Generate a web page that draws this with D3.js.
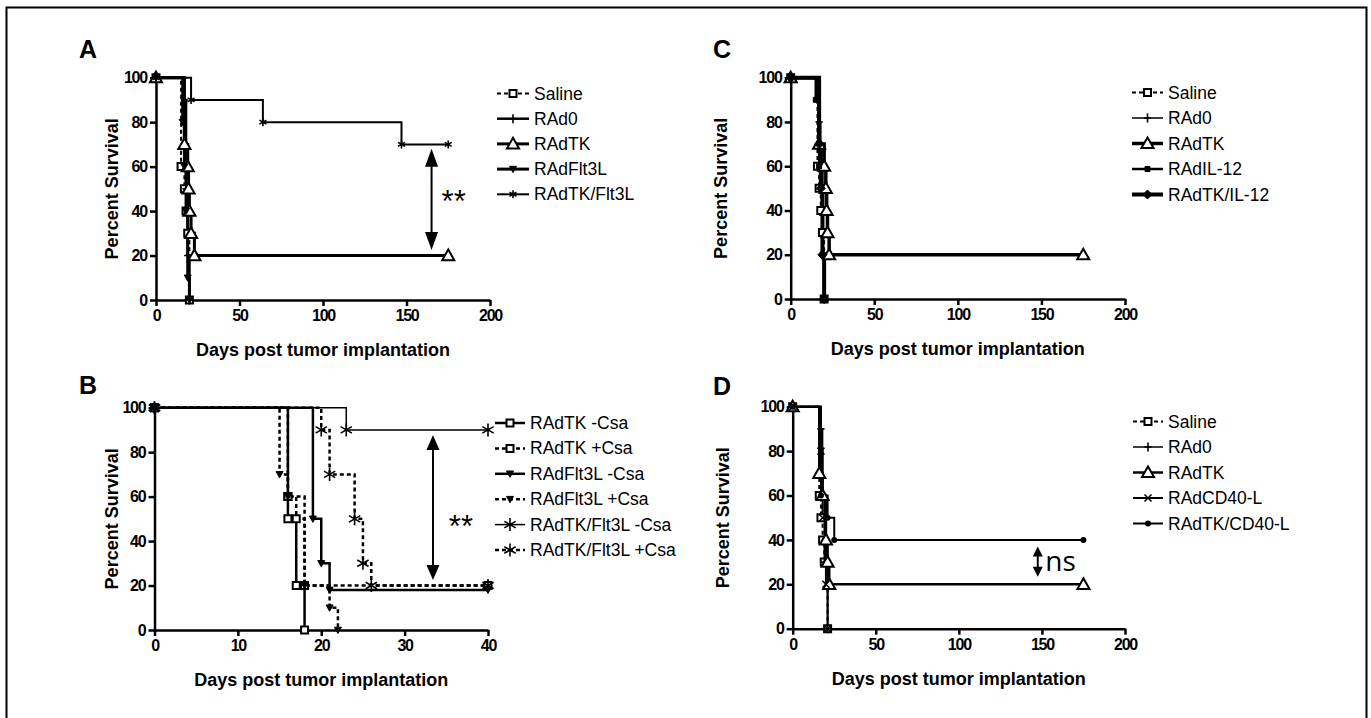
<!DOCTYPE html>
<html>
<head>
<meta charset="utf-8">
<script src="https://cdn.jsdelivr.net/npm/d3@7"></script>
<style>
body { margin: 0; background: #fff; }
svg { display: block; }
.axis text { font-family: "Liberation Sans", Arial, sans-serif; font-weight: bold; font-size: 16px; letter-spacing: -1.2px; fill: #000; }
.axis path, .axis line { stroke: #000; stroke-width: 2.5; }
.title { font-family: "Liberation Sans", Arial, sans-serif; font-weight: bold; font-size: 18px; }
.legend text { font-family: "Liberation Sans", Arial, sans-serif; font-size: 17.5px; }
</style>
</head>
<body>
<svg id="fig" width="1371" height="718"></svg>
<script>
// tick values
var survTicks = [0, 20, 40, 60, 80, 100];
var dayTicksLong = [0, 50, 100, 150, 200];
var dayTicksShort = [0, 10, 20, 30, 40];

// A: survival steps [day, percent]
var namesA = ["Saline", "RAd0", "RAdTK", "RAdFlt3L", "RAdTK/Flt3L"];
var salineA = [[0,100],[15,60],[17,50],[18,40],[19,30],[20,0]];
var rad0A = [[0,100],[17,90],[18,50],[19,20],[20,0]];
var radtkA = [[0,100],[17,70],[19,60],[19.5,50],[20,40],[21,30],[23,20],[175,20]];
var flt3lA = [[0,100],[16,80],[17,60],[18,40],[19,10],[20,0]];
var tkflt3lA = [[0,100],[21,90],[64,80],[147,70],[175,70]];

// B
var namesB = ["RAdTK -Csa", "RAdTK +Csa", "RAdFlt3L -Csa", "RAdFlt3L +Csa", "RAdTK/Flt3L -Csa", "RAdTK/Flt3L +Csa"];
var tkMinusB = [[0,100],[16,60],[16,50],[17,20],[18,0]];
var tkPlusB = [[0,100],[16,60],[17,50],[18,20],[40,20]];
var flt3lMinusB = [[0,100],[19,50],[20,30],[21,18],[40,18]];
var flt3lPlusB = [[0,100],[15,70],[16,60],[18,20],[21,10],[22,0]];
var tkflt3lMinusB = [[0,100],[23,90],[40,90]];
var tkflt3lPlusB = [[0,100],[20,90],[21,70],[24,50],[25,30],[26,20],[40,20]];

// C
var namesC = ["Saline", "RAd0", "RAdTK", "RAdIL-12", "RAdTK/IL-12"];
var salineC = [[0,100],[16,60],[17,50],[18,40],[19,30],[20,0]];
var rad0C = [[0,100],[17,80],[18,50],[19,20],[20,0]];
var radtkC = [[0,100],[17,70],[20,60],[21,50],[21.5,40],[22,30],[23,20],[175,20]];
var il12C = [[0,100],[15,90],[17,60],[19,20],[20,0]];
var tkil12C = [[0,100],[17,70],[18,50],[19,20],[20,0]];

// D
var namesD = ["Saline", "RAd0", "RAdTK", "RAdCD40-L", "RAdTK/CD40-L"];
var salineD = [[0,100],[16,60],[17,50],[18,40],[19,30],[21,0]];
var rad0D = [[0,100],[17,90],[18,60],[19,30],[21,0]];
var radtkD = [[0,100],[16,70],[18,60],[20,40],[21,30],[22,20],[175,20]];
var cd40D = [[0,100],[17,80],[18,50],[20,20],[21,0]];
var tkcd40D = [[0,100],[17,60],[21,50],[25,40],[175,40]];

// line / marker styles per series
var styleA = [
  {dash: "4,3", w: 2, m: "square", ms: 7},
  {dash: null, w: 2.5, m: "plus", ms: 9},
  {dash: null, w: 3, m: "triangle", ms: 11},
  {dash: null, w: 3, m: "tridown", ms: 7},
  {dash: null, w: 2, m: "star", ms: 8}
];
var styleB = [
  {dash: null, w: 2.5, m: "square", ms: 7},
  {dash: "4,3", w: 2.5, m: "square", ms: 7},
  {dash: null, w: 2.5, m: "tridown", ms: 7},
  {dash: "4,3", w: 2.5, m: "tridown", ms: 7},
  {dash: null, w: 1.5, m: "star", ms: 13},
  {dash: "4,3", w: 2.5, m: "star", ms: 13}
];
var styleC = [
  {dash: "4,3", w: 2, m: "square", ms: 7},
  {dash: null, w: 1.5, m: "plus", ms: 9},
  {dash: null, w: 3.5, m: "triangle", ms: 11},
  {dash: null, w: 2.5, m: "fsquare", ms: 5},
  {dash: null, w: 4, m: "diamond", ms: 9}
];
var styleD = [
  {dash: "4,3", w: 2, m: "square", ms: 7},
  {dash: null, w: 1.5, m: "plus", ms: 9},
  {dash: null, w: 2.5, m: "triangle", ms: 11},
  {dash: null, w: 2, m: "x", ms: 7},
  {dash: null, w: 2, m: "dot", ms: 6}
];

var panels = [
  {label: "A", names: namesA, data: [salineA, rad0A, radtkA, flt3lA, tkflt3lA], styles: styleA,
   xMax: 200, xTicks: dayTicksLong, xr: [156, 490], yr: [300, 77.7],
   lab: [79, 58], yTitleX: 118, leg: [497, 93.5, 25.2, 32],
   arrow: {day: 165, from: 68, to: 22.5, head: [13, 18]}, note: {text: "**", day: 171, val: 46}},
  {label: "B", names: namesB, data: [tkMinusB, tkPlusB, flt3lMinusB, flt3lPlusB, tkflt3lMinusB, tkflt3lPlusB], styles: styleB,
   xMax: 40, xTicks: dayTicksShort, xr: [154.5, 488], yr: [630, 407.7],
   lab: [79, 394], yTitleX: 118, leg: [495, 423, 25.4, 30],
   arrow: {day: 33.4, from: 87.7, to: 22.5, head: [13, 15]}, note: {text: "**", day: 35.3, val: 48}},
  {label: "C", names: namesC, data: [salineC, rad0C, radtkC, il12C, tkil12C], styles: styleC,
   xMax: 200, xTicks: dayTicksLong, xr: [790.7, 1125], yr: [299, 77.7],
   lab: [713, 58.3], yTitleX: 727, leg: [1132, 92.5, 25.5, 31],
   arrow: null, note: null},
  {label: "D", names: namesD, data: [salineD, rad0D, radtkD, cd40D, tkcd40D], styles: styleD,
   xMax: 200, xTicks: dayTicksLong, xr: [792.7, 1125], yr: [628.7, 406.7],
   lab: [713, 395], yTitleX: 729, leg: [1133, 421.5, 25.5, 30],
   arrow: {day: 147.5, from: 37, to: 23.4, head: [10, 10]}, note: {text: "ns", day: 152, val: 26}}
];

var svg = d3.select("#fig");

// frame around the whole figure
svg.append("rect")
  .attr("x", 6.5).attr("y", 7.5)
  .attr("width", 1360).attr("height", 730)
  .attr("fill", "none").attr("stroke", "#000").attr("stroke-width", 2);

function markerPath(type, s) {
  var h = s / 2;
  if (type == "square" || type == "fsquare") return "M" + (-h) + "," + (-h) + "H" + h + "V" + h + "H" + (-h) + "Z";
  if (type == "triangle") return "M0," + (-s * 0.55) + "L" + (s * 0.55) + "," + (s * 0.42) + "L" + (-s * 0.55) + "," + (s * 0.42) + "Z";
  if (type == "tridown") return "M" + (-h) + "," + (-s * 0.4) + "L" + h + "," + (-s * 0.4) + "L0," + (s * 0.5) + "Z";
  if (type == "diamond") return "M0," + (-h) + "L" + h + ",0L0," + h + "L" + (-h) + ",0Z";
  if (type == "plus") return "M0," + (-h) + "V" + h + "M" + (-h * 0.8) + ",0H" + (h * 0.8);
  if (type == "x") return "M" + (-h) + "," + (-h) + "L" + h + "," + h + "M" + (-h) + "," + h + "L" + h + "," + (-h);
  if (type == "star") {
    var c = Math.cos(Math.PI / 6) * h, d = Math.sin(Math.PI / 6) * h;
    return "M0," + (-h) + "V" + h + "M" + (-c) + "," + (-d) + "L" + c + "," + d + "M" + (-c) + "," + d + "L" + c + "," + (-d);
  }
  return "";
}

function drawMarker(g, st, x, y) {
  if (st.m == "dot") {
    g.append("circle").attr("cx", x).attr("cy", y).attr("r", st.ms / 2).attr("fill", "#000");
    return;
  }
  var open = (st.m == "square" || st.m == "triangle");
  var filled = (st.m == "fsquare" || st.m == "tridown" || st.m == "diamond");
  g.append("path")
    .attr("d", markerPath(st.m, st.ms))
    .attr("transform", "translate(" + x + "," + y + ")")
    .attr("fill", open ? "#fff" : (filled ? "#000" : "none"))
    .attr("stroke", "#000")
    .attr("stroke-width", open ? 2 : (filled ? 1 : 1.6));
}

panels.forEach(function(p) {
  var x = d3.scaleLinear().domain([0, p.xMax]).range(p.xr);
  var y = d3.scaleLinear().domain([0, 100]).range(p.yr);
  var g = svg.append("g").attr("class", "panel");

  g.append("text").attr("class", "title")
    .attr("x", p.lab[0]).attr("y", p.lab[1])
    .style("font-size", "25px")
    .text(p.label);

  g.append("g").attr("class", "axis")
    .attr("transform", "translate(0," + p.yr[0] + ")")
    .call(d3.axisBottom(x).tickValues(p.xTicks).tickSize(6).tickSizeOuter(0).tickPadding(4).tickFormat(d3.format("d")));

  g.append("g").attr("class", "axis")
    .attr("transform", "translate(" + p.xr[0] + ",0)")
    .call(d3.axisLeft(y).tickValues(survTicks).tickSize(6).tickSizeOuter(0).tickPadding(3).tickFormat(d3.format("d")));

  var cx = (p.xr[0] + p.xr[1]) / 2, cy = (p.yr[0] + p.yr[1]) / 2;
  g.append("text").attr("class", "title")
    .attr("x", cx).attr("y", p.yr[0] + 56)
    .attr("text-anchor", "middle")
    .text("Days post tumor implantation");
  g.append("text").attr("class", "title")
    .attr("transform", "translate(" + p.yTitleX + "," + cy + ") rotate(-90)")
    .attr("text-anchor", "middle")
    .text("Percent Survival");

  var line = d3.line()
    .x(function(d) { return x(d[0]); })
    .y(function(d) { return y(d[1]); })
    .curve(d3.curveStepAfter);

  g.selectAll(".km")
    .data(p.data)
    .enter().append("path")
    .attr("class", "km")
    .attr("d", line)
    .attr("fill", "none")
    .attr("stroke", "#000")
    .attr("stroke-width", function(d, i) { return p.styles[i].w; })
    .attr("stroke-dasharray", function(d, i) { return p.styles[i].dash; });

  p.data.forEach(function(s, i) {
    s.forEach(function(pt) { drawMarker(g, p.styles[i], x(pt[0]), y(pt[1])); });
  });

  // significance arrow
  if (p.arrow) {
    var ax = x(p.arrow.day), y1 = y(p.arrow.from), y2 = y(p.arrow.to);
    var hw = p.arrow.head[0] / 2, hh = p.arrow.head[1];
    g.append("line").attr("x1", ax).attr("x2", ax).attr("y1", y1 + hh - 2).attr("y2", y2 - hh + 2)
      .attr("stroke", "#000").attr("stroke-width", 2);
    g.append("path").attr("d", "M" + ax + "," + y1 + "L" + (ax + hw) + "," + (y1 + hh) + "L" + (ax - hw) + "," + (y1 + hh) + "Z");
    g.append("path").attr("d", "M" + ax + "," + y2 + "L" + (ax + hw) + "," + (y2 - hh) + "L" + (ax - hw) + "," + (y2 - hh) + "Z");
  }
  if (p.note) {
    var isStar = p.note.text == "**";
    g.append("text")
      .attr("x", x(p.note.day)).attr("y", y(p.note.val) + (isStar ? 14 : 0))
      .style("font-family", isStar ? "'Liberation Sans', Arial, sans-serif" : "'Open Sans', sans-serif")
      .style("font-size", isStar ? "31px" : "28px")
      .text(p.note.text);
  }

  // legend
  var leg = g.selectAll(".legend")
    .data(p.names)
    .enter().append("g")
    .attr("class", "legend")
    .attr("transform", function(d, i) { return "translate(" + p.leg[0] + "," + (p.leg[1] + i * p.leg[2]) + ")"; });

  leg.append("line")
    .attr("x1", 0).attr("x2", p.leg[3])
    .attr("stroke", "#000")
    .attr("stroke-width", function(d, i) { return p.styles[i].w; })
    .attr("stroke-dasharray", function(d, i) { return p.styles[i].dash; });

  leg.each(function(d, i) { drawMarker(d3.select(this), p.styles[i], p.leg[3] / 2, 0); });

  leg.append("text")
    .attr("x", p.leg[3] + 5)
    .attr("y", 6)
    .text(function(d) { return d; });
});
</script>
</body>
</html>
